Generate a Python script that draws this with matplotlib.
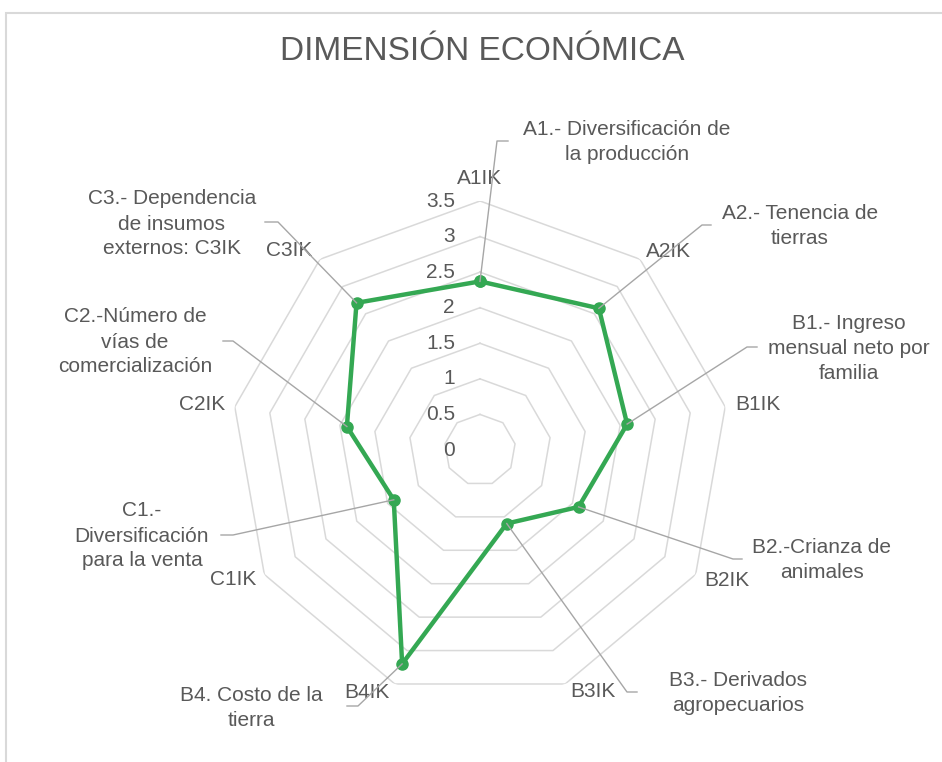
import numpy as np
import matplotlib.pyplot as plt
from matplotlib.lines import Line2D
from matplotlib.patches import Rectangle

# %% datos
categorias = ['A1IK', 'A2IK', 'B1IK', 'B2IK', 'B3IK', 'B4IK', 'C1IK', 'C2IK', 'C3IK']
valores = [2.37, 2.6, 2.1, 1.6, 1.1, 3.2, 1.4, 1.9, 2.7]
niveles = [0.5, 1, 1.5, 2, 2.5, 3, 3.5]
etiquetas_eje = ['0', '0.5', '1', '1.5', '2', '2.5', '3', '3.5']
descripciones = [
    'A1.- Diversificación de\nla producción',
    'A2.- Tenencia de\ntierras',
    'B1.- Ingreso\nmensual neto por\nfamilia',
    'B2.-Crianza de\nanimales',
    'B3.- Derivados\nagropecuarios',
    'B4. Costo de la\ntierra',
    'C1.-\nDiversificación\npara la venta',
    'C2.-Número de\nvías de\ncomercialización',
    'C3.- Dependencia\nde insumos\nexternos: C3IK',
]

# %% estilo
W, H = 942, 762
GRIS_TXT = '#595959'
GRIS_GRID = '#D9D9D9'
GRIS_GUIA = '#A6A6A6'
VERDE = '#34A853'
FS = 15
plt.rcParams['font.family'] = ['Liberation Sans', 'DejaVu Sans']

fig = plt.figure(figsize=(W / 100, H / 100), dpi=100)

# marco del gráfico (se corta a la derecha y abajo)
fig.patches.append(Rectangle((6 / W, -0.05), 1.1, 1 - 13 / H + 0.05, transform=fig.transFigure,
                             fill=False, edgecolor=GRIS_GRID, linewidth=1.5))

cx, cy, R = 480, 450, 249
ax = fig.add_axes([(cx - R) / W, (H - cy - R) / H, 2 * R / W, 2 * R / H], projection='polar')
ax.set_theta_zero_location('N')
ax.set_theta_direction(-1)
ax.set_ylim(0, 3.5)
ax.axis('off')

n = len(categorias)
ang = np.linspace(0, 2 * np.pi, n, endpoint=False)
ang_c = np.append(ang, ang[0])

# anillos poligonales
for r in niveles:
    ax.plot(ang_c, [r] * (n + 1), color=GRIS_GRID, lw=1.1, zorder=1)

# etiquetas del eje radial
for i, t in enumerate(etiquetas_eje):
    ax.annotate(t, xy=(0, i * 0.5), xytext=(-25, 0), textcoords='offset pixels',
                ha='right', va='center', fontsize=FS, color=GRIS_TXT)

# etiquetas de categoría
pos_cat = [((0, 23), 'center'), ((6, 8), 'left'), ((10, 2), 'left'), ((9, -6), 'left'),
           ((5, -8), 'left'), ((-5, -9), 'right'), ((-8, -5), 'right'), ((-10, 2), 'right'),
           ((-8, 9), 'right')]
for a, c, (off, ha) in zip(ang, categorias, pos_cat):
    ax.annotate(c, xy=(a, 3.5), xytext=off, textcoords='offset pixels',
                ha=ha, va='center', fontsize=FS, color=GRIS_TXT)

# serie
ax.plot(ang_c, valores + valores[:1], color=VERDE, lw=3.2, marker='o', ms=8, zorder=3)

# descripciones con líneas guía (coordenadas en píxeles de imagen)
guias = [
    ((627, 142), (497, 141), (508, 141)),
    ((800, 226), (702, 225), (711, 225)),
    ((849, 348), (747, 347), (757, 347)),
    ((822, 560), (733, 559), (742, 559)),
    ((738, 693), (627, 692), (637, 692)),
    ((251, 708), (358, 706), (347, 706)),
    ((142, 536), (233, 535), (221, 535)),
    ((135, 342), (233, 341), (223, 341)),
    ((172, 224), (278, 222), (265, 222)),
]
fig.canvas.draw()
inv = fig.transFigure.inverted()
for a, v, txt, (tp, corner, end) in zip(ang, valores, descripciones, guias):
    px, py = ax.transData.transform((a, v))
    pts = [(px, py), (corner[0], H - corner[1]), (end[0], H - end[1])]
    fp = inv.transform(pts)
    fig.add_artist(Line2D(fp[:, 0], fp[:, 1], transform=fig.transFigure,
                          color=GRIS_GUIA, lw=1, zorder=2))
    fig.text(tp[0] / W, 1 - tp[1] / H, txt, ha='center', va='center', multialignment='center',
             fontsize=FS, color=GRIS_TXT, linespacing=1.4)

fig.text(482 / W, 1 - 52 / H, 'DIMENSIÓN ECONÓMICA', ha='center', va='center',
         fontsize=24, color=GRIS_TXT)

fig.savefig('out.png', dpi=100)
